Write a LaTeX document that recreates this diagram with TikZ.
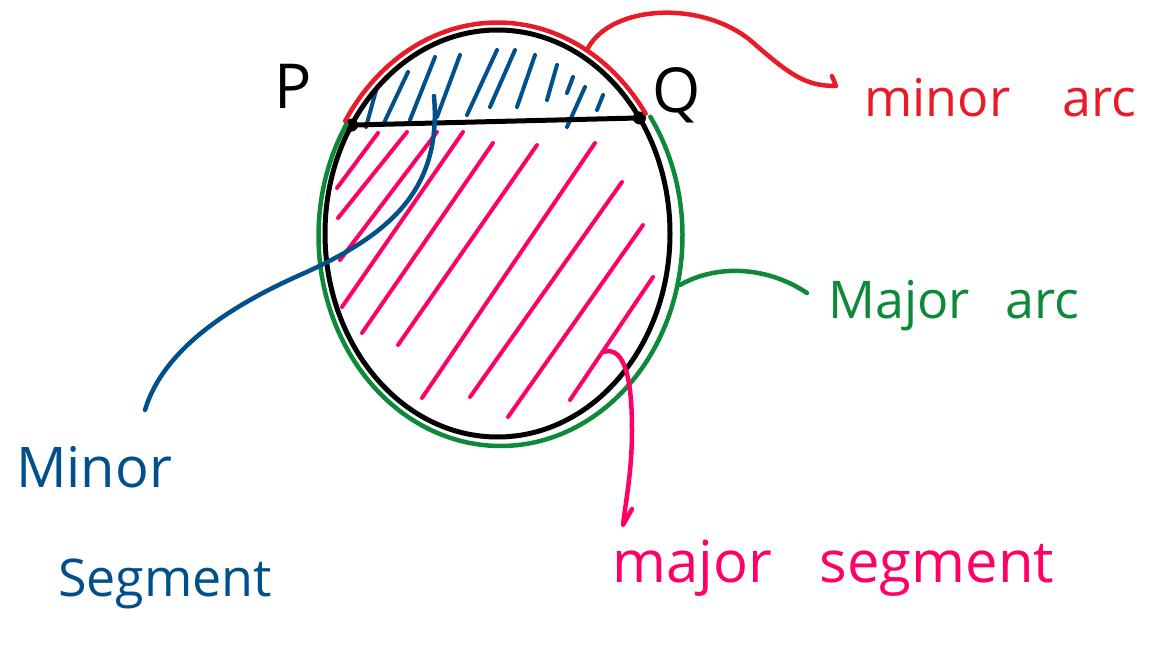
\documentclass[tikz,border=0pt]{standalone}
\usepackage{fontspec}
\setmainfont{Open Sans}
\usetikzlibrary{calc}
\definecolor{inkred}{RGB}{232,28,40}
\definecolor{inkgreen}{RGB}{12,138,58}
\definecolor{inkblue}{RGB}{0,80,140}
\definecolor{inkpink}{RGB}{255,0,102}
\begin{document}
\begin{tikzpicture}[x=1pt,y=-1pt,line cap=round,line join=round,
  ink/.style={line width=4.5pt},
  circ/.style={line width=5pt,draw=black},
  hatch/.style={line width=4pt},
  lbl/.style={inner sep=0pt,font=\fontsize{52}{58}\selectfont}]
\useasboundingbox (0,0) rectangle (1160,669);
\coordinate (C) at (497.5,233.5);
\coordinate (P) at ($(C)+(212.2:172.5 and 203.5)$);
\coordinate (Q) at ($(C)+(325.4:172.5 and 203.5)$);
% major segment hatching
\foreach \a/\b in {
  {(337,188)}/{(378,133)}, {(338,218)}/{(407,132)}, {(340,260)}/{(437,132)},
  {(342,307)}/{(463,132)}, {(362,333)}/{(493,143)}, {(398,345)}/{(537,145)},
  {(422,398)}/{(595,143)}, {(470,397)}/{(622,182)}, {(508,417)}/{(643,225)},
  {(570,400)}/{(653,277)}}
  \draw[hatch,inkpink] \a -- \b;
% minor segment hatching
\foreach \a/\b in {
  {(366,127)}/{(377,87)}, {(383,125)}/{(408,72)}, {(410,120)}/{(435,57)},
  {(437,117)}/{(460,55)}, {(467,115)}/{(497,50)}, {(490,107)}/{(515,50)},
  {(517,107)}/{(535,55)}, {(547,100)}/{(557,65)}, {(567,93)}/{(573,77)},
  {(597,110)}/{(603,95)}, {(567,127)}/{(585,87)}}
  \draw[hatch,inkblue] \a -- \b;
% circle and chord
\draw[circ] (C) ellipse [x radius=172.5, y radius=203.5];
\draw[circ] (P) -- (Q);
\fill (P) circle[radius=6.5];
\fill (Q) circle[radius=6.5];
% arcs
\draw[ink,inkred] ($(C)+(212.2:180 and 211)$) arc[start angle=212.2,end angle=325.4,x radius=180,y radius=211];
\coordinate (C2) at (500.5,236);
\draw[ink,inkgreen] ($(C2)+(325.4:182 and 210)$) arc[start angle=325.4,end angle=572.2,x radius=182,y radius=210];
% labels
\node[lbl,font=\fontsize{62}{68}\selectfont,anchor=base west] (lP) at (274,108) {P};
\node[lbl,font=\fontsize{62}{68}\selectfont,anchor=base west] (lQ) at (652,113) {Q};
\node[lbl,font=\fontsize{52}{58}\selectfont,anchor=base west,text=inkred] (minarc) at (864,116) {minor\hspace{52pt}arc};
\node[lbl,anchor=base west,text=inkgreen] (majarc) at (828,318) {Major\hspace{36pt}arc};
\node[lbl,font=\fontsize{56}{62}\selectfont,anchor=base west,text=inkblue] (minseg1) at (16,487) {Minor};
\node[lbl,font=\fontsize{52}{58}\selectfont,anchor=base west,text=inkblue] (minseg2) at (58,596) {Segment};
\node[lbl,font=\fontsize{58}{64}\selectfont,anchor=base west,text=inkpink] (majseg) at (612,582) {major\hspace{48pt}segment};
% connectors
\coordinate (rs) at (588,48);
\coordinate (re) at (836,86);
\draw[ink,inkred] (rs) .. controls (612,5) and (700,0) .. (750,40) .. controls (790,75) and (805,86) .. (re) -- ++(-4,-10);
\coordinate (gs) at (680,285);
\coordinate (ge) at (807,293);
\draw[ink,inkgreen] (gs) .. controls (715,265) and (765,265) .. (ge);
\coordinate (bs) at (434,96);
\coordinate (be) at (145,410);
\draw[ink,inkblue] (bs) .. controls (442,190) and (390,235) .. (300,275) .. controls (210,315) and (160,360) .. (be);
\coordinate (ps) at (603,352);
\coordinate (pe) at (623,525);
\draw[ink,inkpink] (ps) .. controls (625,345) and (632,380) .. (632,430) .. controls (632,470) and (626,500) .. (pe) -- ++(9,-16);
\end{tikzpicture}
\end{document}
